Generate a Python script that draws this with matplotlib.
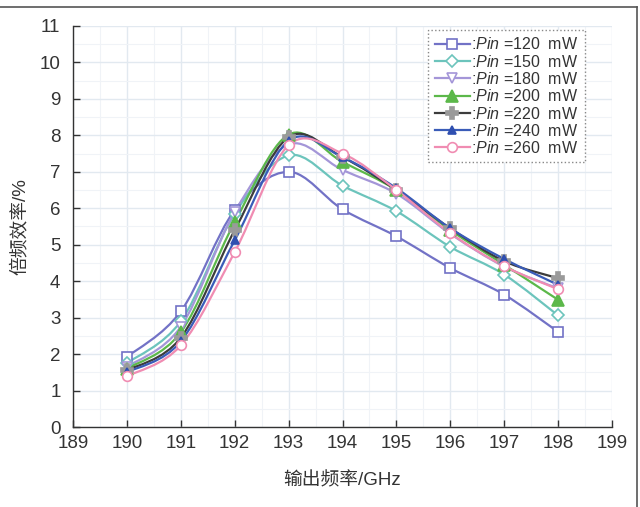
import numpy as np
import matplotlib
matplotlib.use("Agg")
import matplotlib.pyplot as plt
from matplotlib.path import Path
from matplotlib.patches import PathPatch
from matplotlib.lines import Line2D

plt.rcParams['font.family'] = ['Liberation Sans', 'Noto Sans CJK SC', 'DejaVu Sans']
plt.rcParams['mathtext.fontset'] = 'custom'
plt.rcParams['mathtext.it'] = 'Liberation Sans:italic'
plt.rcParams['mathtext.rm'] = 'Liberation Sans'

freq = [190, 191, 192, 193, 194, 195, 196, 197, 198]
pin_labels = ["120", "150", "180", "200", "220", "240", "260"]
eff_120 = [1.92, 3.17, 5.95, 7.00, 5.97, 5.23, 4.36, 3.63, 2.61]
eff_150 = [1.75, 2.90, 5.85, 7.45, 6.62, 5.92, 4.94, 4.18, 3.06]
eff_180 = [1.65, 2.75, 5.90, 7.75, 7.05, 6.40, 5.30, 4.40, 3.80]
eff_200 = [1.60, 2.60, 5.62, 8.02, 7.27, 6.50, 5.40, 4.45, 3.49]
eff_220 = [1.55, 2.45, 5.40, 7.95, 7.40, 6.50, 5.45, 4.55, 4.08]
eff_240 = [1.50, 2.35, 5.12, 7.85, 7.40, 6.55, 5.45, 4.61, 3.90]
eff_260 = [1.39, 2.24, 4.80, 7.73, 7.50, 6.50, 5.32, 4.41, 3.78]
series = [eff_120, eff_150, eff_180, eff_200, eff_220, eff_240, eff_260]

colors = ['#7272c6', '#6cc4bc', '#a496d8', '#5cb84a', '#3c3c3c', '#3a5cb8', '#f08cb2']
mcolors = ['#7272c6', '#6cc4bc', '#a496d8', '#5cb84a', '#9a9a9a', '#2f4fb0', '#f08cb2']
markers = ['s', 'D', 'v', '^', 'P', '^', 'o']
mfill = ['white', 'white', 'white', None, None, None, 'white']
msizes = [7, 6, 7, 8, 8, 6, 7]

fig = plt.figure(figsize=(6.4, 5.07), dpi=100)
ax = fig.add_axes([73/640, 1-427/507, (612-73)/640, (427-26)/507])

def smooth_path(x, y):
    x = np.asarray(x, float); y = np.asarray(y, float)
    n = len(x)
    verts = [(x[0], y[0])]
    codes = [Path.MOVETO]
    for i in range(n-1):
        p0 = np.array([x[max(i-1, 0)], y[max(i-1, 0)]])
        p1 = np.array([x[i], y[i]])
        p2 = np.array([x[i+1], y[i+1]])
        p3 = np.array([x[min(i+2, n-1)], y[min(i+2, n-1)]])
        c1 = p1 + (p2 - p0) / 6.0
        c2 = p2 - (p3 - p1) / 6.0
        verts += [tuple(c1), tuple(c2), tuple(p2)]
        codes += [Path.CURVE4]*3
    return Path(verts, codes)

handles = []
for i, (ys, lab) in enumerate(zip(series, pin_labels)):
    col = colors[i]
    patch = PathPatch(smooth_path(freq, ys), facecolor='none', edgecolor=col, lw=1.6, zorder=3+i*0.1)
    ax.add_patch(patch)
    fc = mfill[i] if mfill[i] else mcolors[i]
    ax.plot(freq, ys, linestyle='none', marker=markers[i], ms=msizes[i],
            mfc=fc, mec=mcolors[i], mew=1.2, zorder=4+i*0.1)
    h = Line2D([], [], color=col, lw=1.6, marker=markers[i], ms=msizes[i],
               mfc=fc, mec=mcolors[i], mew=1.2)
    handles.append(h)

ax.set_xlim(189, 199)
ax.set_ylim(0, 11)
ax.set_xticks(range(189, 200))
ax.set_yticks(range(0, 12))
ax.set_xticks(np.arange(189, 199.01, 0.5), minor=True)
ax.set_yticks(np.arange(0, 11.01, 0.5), minor=True)
ax.grid(True, which='major', color='#e2e9f0', lw=1.0, zorder=0)
ax.grid(True, which='minor', color='#f0f3f7', lw=0.8, zorder=0)
ax.tick_params(axis='both', which='major', direction='in', length=5, width=1,
               labelsize=13.5, colors='#333333', labelcolor='#333333')
ax.tick_params(axis='both', which='minor', length=0)
ax.tick_params(axis='x', pad=6)
ax.tick_params(axis='y', pad=9)
for s in ['top', 'right']:
    ax.spines[s].set_visible(False)
for s in ['left', 'bottom']:
    ax.spines[s].set_color('#333333')
    ax.spines[s].set_linewidth(1.0)

ax.set_xlabel('输出频率/GHz', fontsize=13.5, color='#333333', labelpad=14)
ax.set_ylabel('倍频效率/%', fontsize=13.5, color='#333333', labelpad=8)

leg_labels = [':$\\mathit{Pin}$ =%s  mW' % p for p in pin_labels]
leg = ax.legend(handles, leg_labels, loc='upper right', bbox_to_anchor=(0.950, 0.99),
                fontsize=11.5, frameon=True, fancybox=False, handlelength=2.2,
                handletextpad=0.1, labelspacing=0.08, borderpad=0.4, borderaxespad=0.0)
fr = leg.get_frame()
fr.set_edgecolor('#888888'); fr.set_linestyle(':'); fr.set_linewidth(1.0)
fr.set_facecolor('white'); fr.set_alpha(1.0)
for t in leg.get_texts():
    t.set_color('#333333')

fig.add_artist(Line2D([0, 637/640], [1-7/507, 1-7/507], transform=fig.transFigure, color='#555555', lw=1.2))
fig.add_artist(Line2D([637/640, 637/640], [0, 1-7/507], transform=fig.transFigure, color='#555555', lw=1.2))

fig.savefig('out.png', dpi=100)
